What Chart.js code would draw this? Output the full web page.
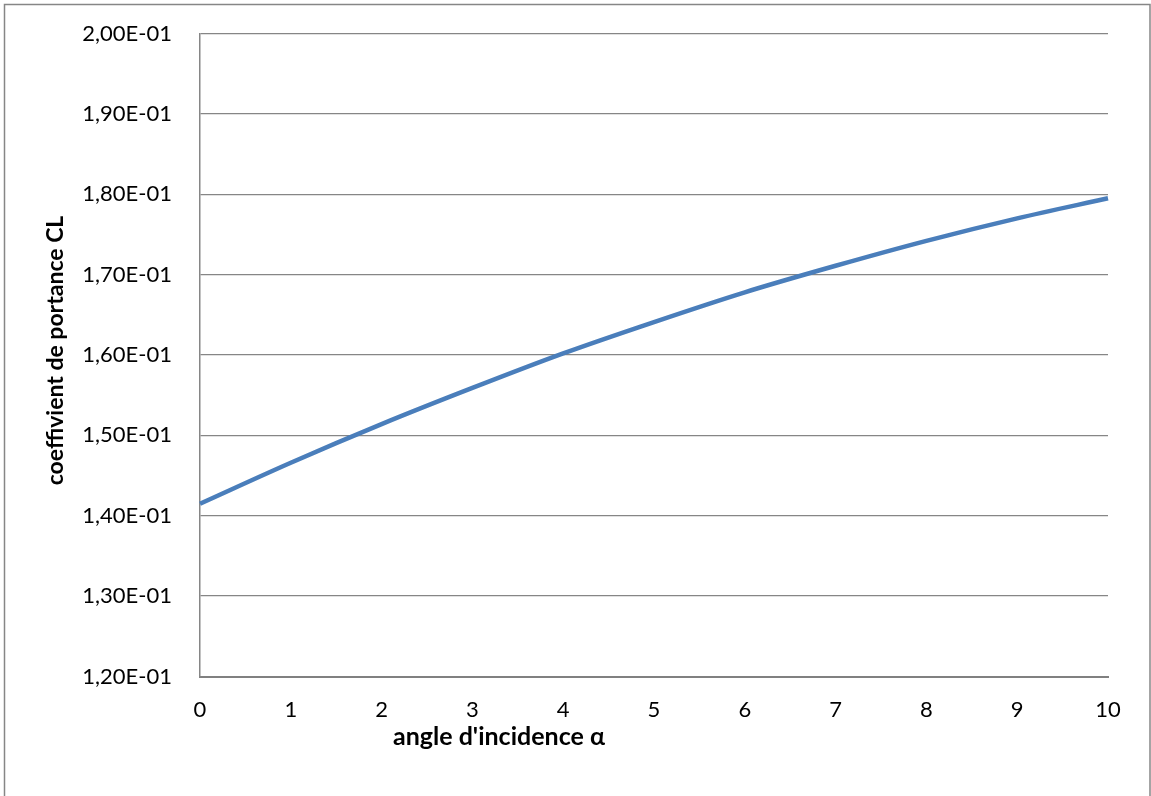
<!DOCTYPE html>
<html lang="fr">
<head>
<meta charset="UTF-8">
<title>Coefficient de portance</title>
<script src="https://cdn.jsdelivr.net/npm/chart.js"></script>
<style>
    * { margin: 0; padding: 0; box-sizing: border-box; }
    body { background: #fff; width: 1151px; height: 796px; overflow: hidden; }
    canvas { display: block; }
</style>
</head>
<body>
<canvas id="clChart" width="1151" height="796"></canvas>
<script>
// angle d'incidence (deg) et coefficient de portance CL
const angles = ['0', '1', '2', '3', '4', '5', '6', '7', '8', '9', '10'];
const clValues = [0.1415, 0.1466, 0.1514, 0.1559, 0.1602, 0.1641, 0.1678, 0.1711, 0.1742, 0.1770, 0.1795];
const yMin = 0.12;
const yMax = 0.20;
const yStep = 0.01;
const xTitle = "angle d'incidence α";
const yTitle = 'coeffivient de portance CL';

const FONT = 'Lato, "Liberation Sans", sans-serif';
const GRID = '#868686';

// "2,00E-01" style labels
function sciLabel(v) {
    const [m, e] = Number(v).toExponential(2).split('e');
    const n = parseInt(e, 10);
    const exp = (n < 0 ? '-' : '+') + String(Math.abs(n)).padStart(2, '0');
    return m.replace('.', ',') + 'E' + exp;
}

// outer frame + axis titles placed by hand like the spreadsheet does
const decor = {
    id: 'decor',
    afterDraw(chart) {
        const ctx = chart.ctx;
        const a = chart.chartArea;
        ctx.save();
        ctx.strokeStyle = GRID;
        ctx.lineWidth = 1.5;
        ctx.strokeRect(4.5, 4.5, 1145.5, 820);

        ctx.fillStyle = '#000';
        ctx.textAlign = 'center';
        ctx.textBaseline = 'middle';
        ctx.font = 'bold 25px ' + FONT;
        ctx.fillText(xTitle, a.left + 299, 737);

        // vertical title is a bit condensed along its length
        ctx.font = 'bold 23px ' + FONT;
        const w = ctx.measureText(yTitle).width;
        ctx.translate(56, a.top + 317);
        ctx.rotate(-Math.PI / 2);
        ctx.scale(Math.min(1, 295 / w), 1);
        ctx.fillText(yTitle, 0, 0);
        ctx.restore();
    }
};

const ctx = document.getElementById('clChart').getContext('2d');
new Chart(ctx, {
    type: 'line',
    data: {
        labels: angles,
        datasets: [{
            data: clValues,
            borderColor: '#4A7EBB',
            borderWidth: 4.5,
            pointRadius: 0,
            fill: false,
            cubicInterpolationMode: 'monotone'
        }]
    },
    options: {
        responsive: false,
        animation: false,
        layout: { padding: { top: 33.5, right: 43, left: 0, bottom: 0 } },
        plugins: {
            legend: { display: false },
            tooltip: { enabled: false }
        },
        scales: {
            x: {
                offset: false,
                afterFit(s) { s.height = 119.5; },
                grid: { display: false, drawTicks: false },
                border: { display: true, color: '#808080', width: 2 },
                ticks: {
                    color: '#000',
                    padding: 20,
                    maxRotation: 0,
                    autoSkip: false,
                    font: { family: FONT, size: 22 }
                }
            },
            y: {
                min: yMin,
                max: yMax,
                // fixed gutter; tick padding should not push the plot down
                afterFit(s) {
                    s.width = 200;
                    s.paddingTop = 0;
                    s.paddingBottom = 0;
                },
                grid: { color: GRID, lineWidth: 1.3, drawTicks: false },
                border: { display: true, color: GRID, width: 1.5 },
                ticks: {
                    stepSize: yStep,
                    color: '#000',
                    padding: 28,
                    font: { family: FONT, size: 22 },
                    callback: v => sciLabel(v)
                }
            }
        }
    },
    plugins: [decor]
});
</script>
</body>
</html>
